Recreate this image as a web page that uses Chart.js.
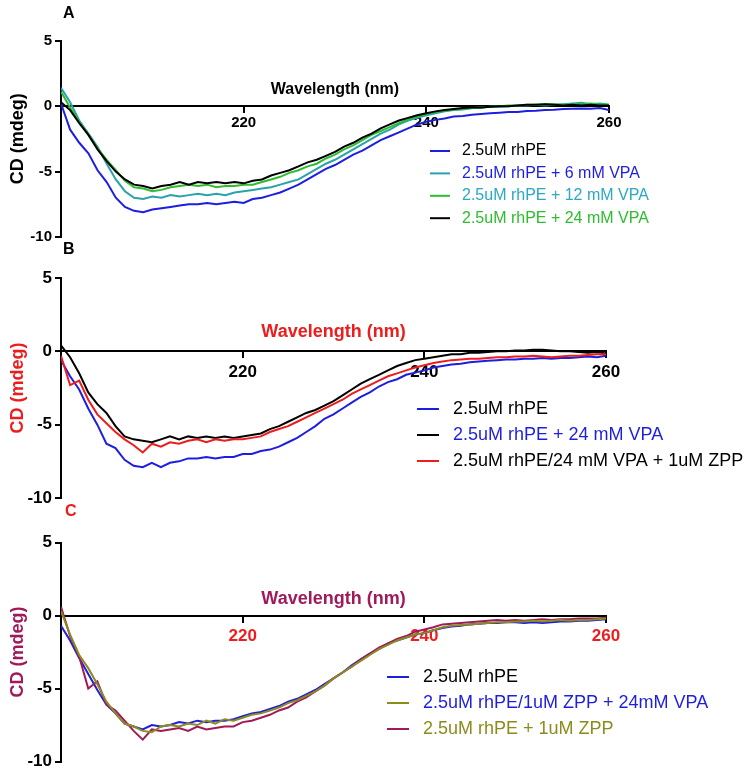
<!DOCTYPE html>
<html><head><meta charset="utf-8">
<script src="https://cdn.jsdelivr.net/npm/chart.js@4.4.1/dist/chart.umd.min.js"></script>
<style>
html,body{margin:0;padding:0;background:#fff;}
#wrap{position:relative;width:750px;height:773px;overflow:hidden;}
canvas{position:absolute;left:0;top:0;}
</style></head><body>
<div id="wrap">
<canvas id="cA" width="750" height="773"></canvas>
<canvas id="cB" width="750" height="773"></canvas>
<canvas id="cC" width="750" height="773"></canvas>
</div>
<script>
const FONT = "'Liberation Sans', Arial, Helvetica, sans-serif";

// Wavelength grid (nm)
const wavelengths = [200,201,202,203,204,205,206,207,208,209,
  210,211,212,213,214,215,216,217,218,219,
  220,221,222,223,224,225,226,227,228,229,
  230,231,232,233,234,235,236,237,238,239,
  240,241,242,243,244,245,246,247,248,249,
  250,251,252,253,254,255,256,257,258,259,260];
const xTickLabels = [220, 240, 260];
const yTicks = [-10, -5, 0, 5];

// Panel A
const labelsA = ['2.5uM rhPE', '2.5uM rhPE + 6 mM VPA', '2.5uM rhPE + 12 mM VPA', '2.5uM rhPE + 24 mM VPA'];
const A_rhPE = [0.2,-1.8,-2.8,-3.6,-4.9,-5.8,-7.0,-7.7,-8.0,-8.1,
  -7.9,-7.8,-7.7,-7.6,-7.5,-7.5,-7.4,-7.5,-7.4,-7.3,
  -7.4,-7.1,-7.0,-6.8,-6.6,-6.3,-6.0,-5.6,-5.2,-4.8,
  -4.5,-4.1,-3.7,-3.4,-3.0,-2.6,-2.3,-2.0,-1.7,-1.4,
  -1.2,-1.05,-0.95,-0.8,-0.75,-0.65,-0.6,-0.55,-0.5,-0.45,
  -0.45,-0.38,-0.35,-0.3,-0.28,-0.22,-0.2,-0.18,-0.2,-0.15,-0.3];
const A_6mM = [1.4,0.3,-1.1,-2.1,-3.1,-4.4,-5.6,-6.5,-7.0,-7.1,
  -6.9,-7.0,-6.8,-6.9,-6.8,-6.7,-6.8,-6.7,-6.8,-6.6,
  -6.5,-6.4,-6.3,-6.2,-6.0,-5.8,-5.6,-5.2,-4.8,-4.4,
  -4.1,-3.7,-3.3,-2.9,-2.5,-2.1,-1.8,-1.4,-1.1,-0.9,
  -0.7,-0.55,-0.4,-0.3,-0.25,-0.15,-0.1,-0.05,-0.05,0.0,
  0.05,0.05,0.1,0.05,0.1,0.15,0.2,0.25,0.15,0.2,0.1];
const A_12mM = [1.1,-0.1,-1.2,-2.2,-3.2,-4.1,-4.9,-5.7,-6.2,-6.3,
  -6.5,-6.4,-6.2,-6.1,-6.0,-6.1,-6.0,-6.2,-6.1,-6.1,
  -6.0,-6.0,-5.8,-5.6,-5.4,-5.1,-4.9,-4.6,-4.4,-4.0,
  -3.7,-3.3,-3.0,-2.6,-2.2,-1.9,-1.6,-1.3,-1.0,-0.8,
  -0.6,-0.45,-0.35,-0.25,-0.2,-0.15,-0.1,-0.05,0.0,0.05,
  0.05,0.1,0.1,0.15,0.15,0.1,0.15,0.15,0.2,0.15,0.1];
const A_24mM = [0.3,-0.3,-1.3,-2.2,-3.3,-4.2,-5.0,-5.6,-6.0,-6.1,
  -6.3,-6.1,-6.0,-5.8,-6.0,-5.8,-5.9,-5.8,-5.9,-5.8,
  -5.9,-5.7,-5.6,-5.3,-5.1,-4.9,-4.6,-4.3,-4.1,-3.8,
  -3.5,-3.1,-2.8,-2.4,-2.1,-1.7,-1.4,-1.1,-0.9,-0.7,
  -0.55,-0.4,-0.3,-0.22,-0.15,-0.1,-0.1,-0.05,0.0,0.0,
  0.05,0.1,0.1,0.15,0.1,0.05,0.1,0.05,0.1,0.05,0.05];

// Panel B
const labelsB = ['2.5uM rhPE', '2.5uM rhPE + 24 mM VPA', '2.5uM rhPE/24 mM VPA + 1uM ZPP'];
const B_rhPE = [-0.6,-1.7,-2.6,-3.9,-5.0,-6.3,-6.6,-7.4,-7.8,-7.9,
  -7.6,-7.9,-7.6,-7.5,-7.3,-7.3,-7.2,-7.3,-7.2,-7.2,
  -7.0,-7.0,-6.8,-6.7,-6.5,-6.2,-5.9,-5.5,-5.1,-4.6,
  -4.3,-3.9,-3.5,-3.1,-2.8,-2.4,-2.1,-1.9,-1.6,-1.45,
  -1.3,-1.1,-1.0,-0.9,-0.85,-0.75,-0.7,-0.65,-0.6,-0.55,
  -0.55,-0.5,-0.5,-0.45,-0.5,-0.45,-0.45,-0.4,-0.35,-0.4,-0.3];
const B_24mM = [0.4,-0.4,-1.5,-2.8,-3.6,-4.2,-5.1,-5.8,-6.0,-6.1,
  -6.2,-6.0,-5.8,-6.0,-5.8,-5.9,-5.8,-5.9,-5.8,-5.9,
  -5.8,-5.7,-5.6,-5.3,-5.1,-4.8,-4.5,-4.2,-4.0,-3.7,
  -3.4,-3.0,-2.6,-2.2,-1.9,-1.6,-1.3,-1.0,-0.8,-0.6,
  -0.5,-0.4,-0.3,-0.2,-0.2,-0.1,-0.1,-0.05,0.0,0.0,
  0.05,0.05,0.1,0.1,0.05,0.0,0.0,-0.05,-0.1,-0.05,-0.15];
const B_ZPP = [-0.3,-2.3,-2.0,-3.3,-4.3,-4.9,-5.5,-6.0,-6.4,-6.9,
  -6.3,-6.5,-6.2,-6.3,-6.1,-6.0,-6.2,-6.0,-6.1,-6.0,
  -6.0,-5.9,-5.8,-5.5,-5.3,-5.1,-4.8,-4.5,-4.2,-3.9,
  -3.6,-3.3,-2.9,-2.6,-2.3,-2.0,-1.7,-1.5,-1.3,-1.1,
  -0.95,-0.8,-0.7,-0.6,-0.55,-0.5,-0.5,-0.45,-0.4,-0.4,
  -0.35,-0.35,-0.3,-0.35,-0.4,-0.35,-0.3,-0.3,-0.25,-0.2,-0.2];

// Panel C
const labelsC = ['2.5uM rhPE', '2.5uM rhPE/1uM ZPP + 24mM VPA', '2.5uM rhPE + 1uM ZPP'];
const C_rhPE = [-0.7,-1.7,-2.9,-4.0,-5.1,-6.1,-6.7,-7.4,-7.6,-7.8,
  -7.5,-7.6,-7.5,-7.3,-7.4,-7.2,-7.3,-7.2,-7.2,-7.1,
  -6.9,-6.7,-6.6,-6.4,-6.2,-5.9,-5.7,-5.4,-5.1,-4.7,
  -4.3,-3.9,-3.4,-3.0,-2.6,-2.3,-1.9,-1.7,-1.5,-1.3,
  -1.2,-1.0,-0.85,-0.75,-0.7,-0.6,-0.55,-0.5,-0.5,-0.45,
  -0.45,-0.5,-0.45,-0.5,-0.45,-0.4,-0.4,-0.35,-0.35,-0.3,-0.25];
const C_ZPP_VPA = [0.3,-1.3,-2.7,-3.6,-4.7,-5.9,-6.7,-7.4,-7.6,-7.9,
  -8.0,-7.6,-7.5,-7.6,-7.4,-7.5,-7.2,-7.4,-7.1,-7.2,
  -7.0,-6.8,-6.7,-6.5,-6.3,-6.0,-5.8,-5.5,-5.2,-4.8,
  -4.3,-3.9,-3.5,-3.1,-2.7,-2.3,-2.0,-1.7,-1.5,-1.3,
  -1.2,-1.0,-0.8,-0.7,-0.65,-0.6,-0.55,-0.5,-0.45,-0.45,
  -0.4,-0.4,-0.35,-0.4,-0.35,-0.3,-0.35,-0.3,-0.3,-0.25,-0.2];
const C_ZPP = [0.6,-1.4,-2.8,-5.0,-4.5,-6.1,-6.5,-7.2,-7.9,-8.5,
  -7.8,-7.9,-7.8,-7.7,-7.9,-7.6,-7.8,-7.7,-7.6,-7.6,
  -7.3,-7.2,-7.0,-6.8,-6.5,-6.3,-5.9,-5.6,-5.2,-4.8,
  -4.3,-3.9,-3.5,-3.0,-2.6,-2.2,-1.9,-1.6,-1.4,-1.1,
  -0.95,-0.8,-0.6,-0.55,-0.5,-0.45,-0.4,-0.35,-0.3,-0.35,
  -0.3,-0.35,-0.3,-0.25,-0.3,-0.25,-0.25,-0.2,-0.2,-0.2,-0.15];

const BLUE = '#1e1ee0', TEAL = '#2aa2ae', GREEN = '#2dbd2d', BLACK = '#000000',
      RED = '#ee1c1c', OLIVE = '#8c8c1e', PURPLE = '#a01a5a', TEALTXT = '#2aa8c4';

const decor = {
  id: 'decor',
  afterDraw(chart, args, o) {
    const ctx = chart.ctx, ca = chart.chartArea;
    ctx.save();
    ctx.font = `bold ${o.letterSize}px ${FONT}`;
    ctx.fillStyle = o.letterColor; ctx.textAlign = 'left'; ctx.textBaseline = 'alphabetic';
    ctx.fillText(o.letter, o.letterX, o.letterY);
    const y0 = chart.scales.y.getPixelForValue(0);
    ctx.font = `bold ${o.xTitleSize}px ${FONT}`;
    ctx.fillStyle = o.xTitleColor; ctx.textAlign = 'center'; ctx.textBaseline = 'middle';
    ctx.fillText(o.xTitle, (ca.left + ca.right) / 2, y0 - o.xTitleGap);
    ctx.font = `${o.legendSize}px ${FONT}`;
    ctx.textAlign = 'left'; ctx.textBaseline = 'middle';
    chart.data.datasets.forEach((ds, i) => {
      const yy = o.legendY + i * o.legendGap;
      ctx.strokeStyle = ds.borderColor; ctx.lineWidth = 2;
      ctx.beginPath(); ctx.moveTo(o.legendX, yy); ctx.lineTo(o.legendX + o.legendLine, yy); ctx.stroke();
      ctx.fillStyle = o.legendTextColors[i];
      ctx.fillText(ds.label, o.legendX + o.legendLine + o.legendTextGap, yy);
    });
    ctx.restore();
  }
};

function makeChart(id, c) {
  const n = c.series.length;
  return new Chart(document.getElementById(id), {
    type: 'line',
    data: {
      datasets: c.series.map((s, i) => ({
        label: c.labels[i],
        data: wavelengths.map((w, j) => ({x: w, y: s[j]})),
        borderColor: c.colors[i], backgroundColor: c.colors[i],
        borderWidth: 2, pointRadius: 0, tension: 0, fill: false,
        order: c.order ? c.order[i] : (n - 1 - i)
      }))
    },
    options: {
      responsive: false, animation: false, events: [],
      layout: {padding: {top: c.top, bottom: 773 - c.bottom, left: 0, right: 750 - c.right}},
      plugins: {
        legend: {display: false}, tooltip: {enabled: false},
        decor: c.decor
      },
      scales: {
        x: {
          type: 'linear', min: 200, max: 260, position: {y: 0},
          ticks: {stepSize: 20, autoSkip: false, maxRotation: 0,
            callback: v => xTickLabels.includes(v) ? String(v) : '',
            font: {family: FONT, weight: 'bold', size: c.tickSize}, color: c.xTickColor, padding: c.xTickPad},
          grid: {drawOnChartArea: false, drawTicks: true, tickLength: 6, color: '#000', lineWidth: 2},
          border: {display: true, color: '#000', width: 2}
        },
        y: {
          min: -10, max: 5,
          afterBuildTicks: s => { s.ticks = yTicks.map(v => ({value: v})); },
          ticks: {font: {family: FONT, weight: 'bold', size: c.yTickSize, lineHeight: 1}, color: '#000', padding: 3},
          grid: {drawOnChartArea: false, drawTicks: true, tickLength: 6, color: '#000', lineWidth: 2},
          border: {display: true, color: '#000', width: 2},
          title: {display: true, text: 'CD (mdeg)', color: c.yTitleColor,
            font: {family: FONT, weight: 'bold', size: 18}, padding: {top: 7, bottom: 0}},
          afterFit: s => { s.width = 61; }
        }
      }
    },
    plugins: [decor]
  });
}

makeChart('cA', {
  series: [A_rhPE, A_6mM, A_12mM, A_24mM], labels: labelsA,
  colors: [BLUE, TEAL, GREEN, BLACK],
  top: 40.7, bottom: 237, right: 609,
  tickSize: 15, yTickSize: 15, xTickColor: '#000', xTickPad: 2, yTitleColor: '#000',
  decor: {letter: 'A', letterColor: '#000', letterSize: 16, letterX: 63, letterY: 18,
    xTitle: 'Wavelength (nm)', xTitleColor: '#000', xTitleSize: 16, xTitleGap: 17,
    legendX: 430, legendY: 151, legendGap: 22.4, legendLine: 20, legendTextGap: 12, legendSize: 16,
    legendTextColors: [BLACK, BLUE, TEALTXT, GREEN]}
});
makeChart('cB', {
  series: [B_rhPE, B_24mM, B_ZPP], labels: labelsB,
  colors: [BLUE, BLACK, RED],
  top: 278, bottom: 498, right: 606,
  tickSize: 17, yTickSize: 17, xTickColor: '#000', xTickPad: 5, yTitleColor: RED,
  decor: {letter: 'B', letterColor: '#000', letterSize: 16, letterX: 63, letterY: 254,
    xTitle: 'Wavelength (nm)', xTitleColor: RED, xTitleSize: 18, xTitleGap: 19,
    legendX: 417, legendY: 409, legendGap: 26, legendLine: 22, legendTextGap: 14, legendSize: 18,
    legendTextColors: [BLACK, BLUE, BLACK]}
});
makeChart('cC', {
  series: [C_rhPE, C_ZPP_VPA, C_ZPP], labels: labelsC,
  colors: [BLUE, OLIVE, PURPLE], order: [2, 0, 1],
  top: 542.7, bottom: 764, right: 606,
  tickSize: 17, yTickSize: 17, xTickColor: RED, xTickPad: 4, yTitleColor: PURPLE,
  decor: {letter: 'C', letterColor: RED, letterSize: 16, letterX: 65, letterY: 516,
    xTitle: 'Wavelength (nm)', xTitleColor: PURPLE, xTitleSize: 18, xTitleGap: 17,
    legendX: 387, legendY: 677, legendGap: 26, legendLine: 22, legendTextGap: 14, legendSize: 18,
    legendTextColors: [BLACK, BLUE, OLIVE]}
});
</script>
</body></html>
